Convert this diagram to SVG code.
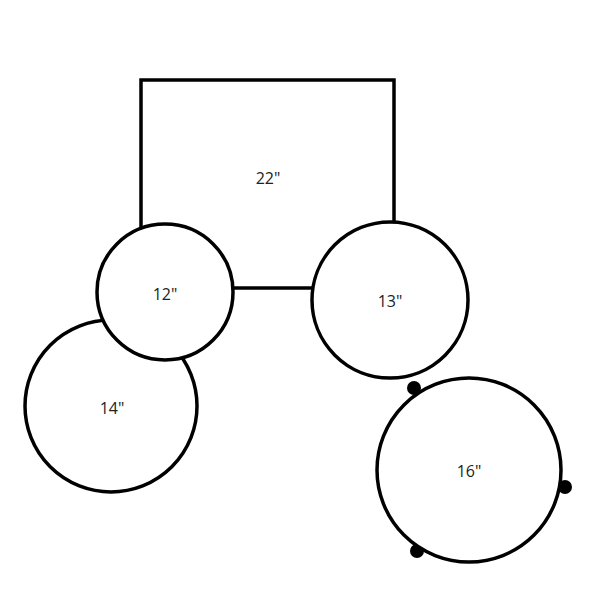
<svg xmlns="http://www.w3.org/2000/svg" width="600" height="600" viewBox="0 0 600 600">
<style>
.shell{fill:#fff;stroke:#000;stroke-width:3.5}
.lbl{font-family:"Open Sans","Liberation Sans",sans-serif;font-size:16px;fill:#222;text-anchor:middle;dominant-baseline:central}
.lug{fill:#000}
</style>
<rect width="600" height="600" fill="#fff"/>
<g id="bass-drum">
<rect class="shell" x="141" y="80" width="253" height="208"/>
<text class="lbl" x="268" y="178">22"</text>
</g>
<g id="floor-tom-14">
<circle class="shell" cx="111" cy="406" r="86"/>
<text class="lbl" x="112" y="408">14"</text>
</g>
<g id="rack-tom-12">
<circle class="shell" cx="165" cy="292" r="68"/>
<text class="lbl" x="165" y="294">12"</text>
</g>
<g id="rack-tom-13">
<circle class="shell" cx="390" cy="300" r="78"/>
<text class="lbl" x="390" y="301">13"</text>
</g>
<g id="floor-tom-16">
<circle class="lug" cx="414" cy="388" r="7"/>
<circle class="lug" cx="565" cy="487" r="7"/>
<circle class="lug" cx="417" cy="551" r="7"/>
<circle class="shell" cx="469" cy="470" r="92"/>
<text class="lbl" x="469" y="471">16"</text>
</g>
</svg>
